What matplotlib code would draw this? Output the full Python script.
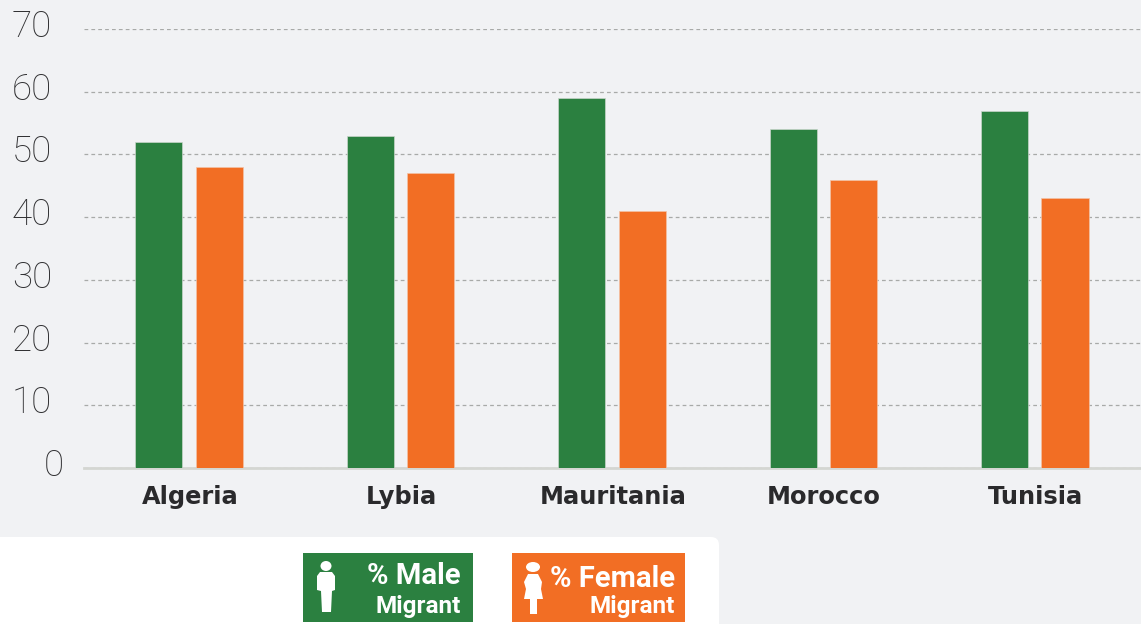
import matplotlib
matplotlib.use("Agg")
import matplotlib.pyplot as plt
from matplotlib.patches import FancyBboxPatch, Rectangle, Ellipse, Polygon
from matplotlib.transforms import ScaledTranslation
import numpy as np

countries = ["Algeria", "Lybia", "Mauritania", "Morocco", "Tunisia"]
male = [52, 53, 59, 54, 57]
female = [48, 47, 41, 46, 43]
yticks = [0, 10, 20, 30, 40, 50, 60, 70]

GREEN = "#2b8040"
ORANGE = "#f26e24"
BG = "#f1f2f4"

W, H = 1141, 624
fig = plt.figure(figsize=(W / 100, H / 100), dpi=100, facecolor=BG)

# overlay in pixel coords for the legend box
pix = fig.add_axes([0, 0, 1, 1], zorder=3)
pix.set_xlim(0, W)
pix.set_ylim(H, 0)
pix.axis("off")

ax = fig.add_axes([84 / W, (H - 468) / H, (1141 - 84) / W, (468 - 29) / H], zorder=2)
ax.set_facecolor("none")

x = np.arange(len(countries))
ax.bar(x - 0.142, male, 0.2225, color=GREEN, edgecolor="#c9d6cb", linewidth=0.5, zorder=3)
ax.bar(x + 0.144, female, 0.2225, color=ORANGE, edgecolor="#f3c3a6", linewidth=0.5, zorder=3)

ax.set_xlim(-0.4965, 4.5035)
ax.set_ylim(0, 70)
ax.set_xticks(x)
ax.set_xticklabels(countries, fontfamily="DejaVu Sans", fontweight="bold", fontsize=17.4, color="#2a2a2c")
ax.set_yticks(yticks)
ax.set_yticklabels([str(v) for v in yticks], fontfamily="Roboto", fontweight="light", fontsize=26.5, color="#2f2f31")
ax.tick_params(axis="both", length=0)
ax.tick_params(axis="x", pad=12)
ax.tick_params(axis="y", pad=23)

for lab, v in zip(ax.get_yticklabels(), yticks):
    dx = 12 / 100 if v == 0 else 0
    lab.set_transform(lab.get_transform() + ScaledTranslation(dx, 6 / 100, fig.dpi_scale_trans))
for lab in ax.get_xticklabels():
    lab.set_transform(lab.get_transform() + ScaledTranslation(1 / 100, 0, fig.dpi_scale_trans))

ax.grid(axis="y", color="#a8aaa8", linestyle=(0, (3, 2.5)), linewidth=0.9, zorder=1)
ax.grid(axis="x", visible=False)
for s in ["top", "right", "left"]:
    ax.spines[s].set_visible(False)
ax.spines["bottom"].set_color("#d4d6d2")
ax.spines["bottom"].set_linewidth(2)
ax.spines["bottom"].set_zorder(2)

# white panel behind the legend
pix.add_patch(FancyBboxPatch((-20, 537), 739, 120, boxstyle="round,pad=0,rounding_size=8",
                             facecolor="white", edgecolor="none", zorder=1))

pix.add_patch(Rectangle((303, 553), 170, 69, facecolor=GREEN, edgecolor="none", zorder=2))
pix.add_patch(Rectangle((512, 553), 173, 69, facecolor=ORANGE, edgecolor="none", zorder=2))

# male icon
pix.add_patch(Ellipse((326, 566), 11, 10, facecolor="white", edgecolor="none", zorder=4))
pix.add_patch(Polygon([(320, 572), (332, 572), (335, 576), (335, 590), (332, 591), (331, 612),
                       (322, 612), (321, 591), (317, 590), (317, 576)],
                      facecolor="white", edgecolor="none", zorder=4))
# female icon
pix.add_patch(Ellipse((533, 567), 14, 10, facecolor="white", edgecolor="none", zorder=4))
pix.add_patch(Polygon([(528, 574), (538, 574), (542, 582), (541, 589), (543, 599), (537, 599),
                       (537, 614), (530, 614), (530, 599), (524, 599), (526, 589), (524, 582)],
                      facecolor="white", edgecolor="none", zorder=4))

for label, right, y1, y2 in [("% Male", 461, 576, 606), ("% Female", 675, 579, 606)]:
    pix.text(right, y1, label, ha="right", va="center", color="white",
             fontfamily="Roboto", fontweight="bold", fontsize=21, zorder=5)
    pix.text(right, y2, "Migrant", ha="right", va="center", color="white",
             fontfamily="Roboto", fontweight="bold", fontsize=17.5, zorder=5)

fig.savefig("out.png", dpi=100, facecolor=BG)
